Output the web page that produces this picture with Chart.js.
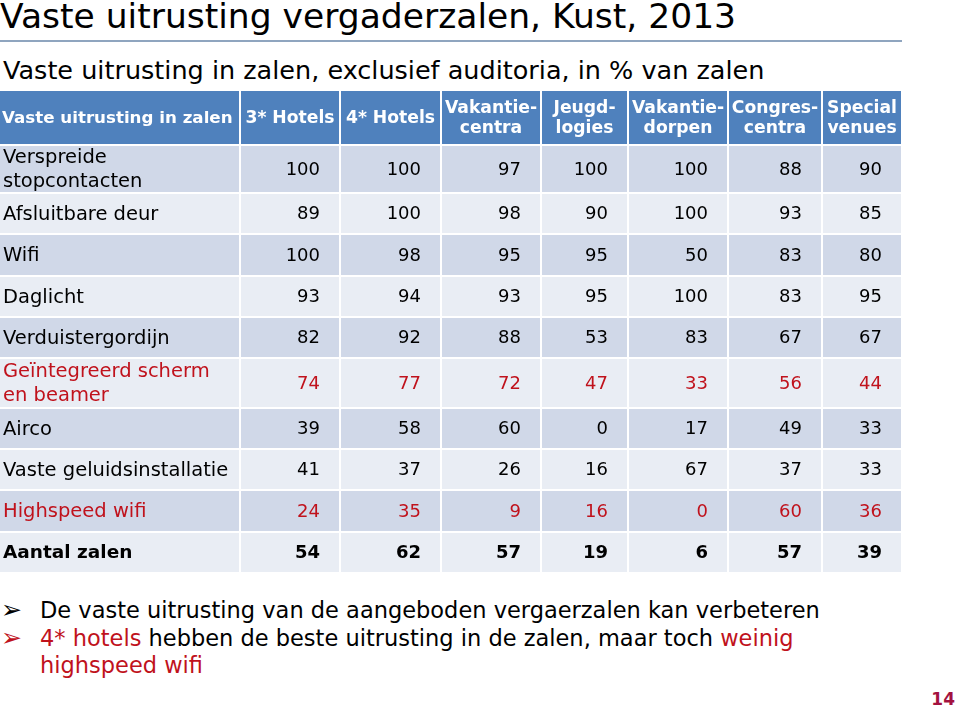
<!DOCTYPE html>
<html>
<head>
<meta charset="utf-8">
<script src="https://cdn.jsdelivr.net/npm/chart.js@4/dist/chart.umd.min.js"></script>
<style>
    body { margin: 0; width: 960px; height: 712px; background: #fff; position: relative; overflow: hidden; font-family: 'DejaVu Sans', Verdana, sans-serif; color: #000; }
    .title { position: absolute; left: 0; top: -4px; font-size: 34.5px; white-space: nowrap; }
    .rule { position: absolute; left: 0; top: 40px; width: 902px; height: 2px; background: #8fa5bf; }
    .subtitle { position: absolute; left: 3px; top: 55px; font-size: 25.5px; white-space: nowrap; }
    .table-wrap { position: absolute; left: 0; top: 91px; width: 902px; height: 482px; }
    .notes { position: absolute; left: 0; top: 597px; font-size: 22.5px; line-height: 27.5px; }
    .notes div { position: relative; padding-left: 40px; width: 830px; }
    .notes .arrow { position: absolute; left: 1px; top: -2px; font-size: 25px; line-height: 30px; }
    .red { color: #c0121c; }
    .page { position: absolute; right: 5px; top: 689px; font-size: 17px; font-weight: bold; color: #a3123f; }
</style>
</head>
<body>
<div class="title">Vaste uitrusting vergaderzalen, Kust, 2013</div>
<div class="rule"></div>
<div class="subtitle">Vaste uitrusting in zalen, exclusief auditoria, in % van zalen</div>
<div class="table-wrap"><canvas id="tableChart"></canvas></div>
<div class="notes">
    <div><span class="arrow">➢</span>De vaste uitrusting van de aangeboden vergaerzalen kan verbeteren</div>
    <div><span class="arrow red">➢</span><span class="red">4* hotels</span> hebben de beste uitrusting in de zalen, maar toch <span class="red">weinig highspeed wifi</span></div>
</div>
<div class="page">14</div>

<script>
// Table data
const cornerLabel = 'Vaste uitrusting in zalen';
const columns = ['3* Hotels', '4* Hotels', 'Vakantie-\ncentra', 'Jeugd-\nlogies', 'Vakantie-\ndorpen', 'Congres-\ncentra', 'Special\nvenues'];
const rowLabels = ['Verspreide\nstopcontacten', 'Afsluitbare deur', 'Wifi', 'Daglicht', 'Verduistergordijn',
    'Geïntegreerd scherm\nen beamer', 'Airco', 'Vaste geluidsinstallatie', 'Highspeed wifi', 'Aantal zalen'];
const hotels3 = [100, 89, 100, 93, 82, 74, 39, 41, 24, 54];
const hotels4 = [100, 100, 98, 94, 92, 77, 58, 37, 35, 62];
const vakantiecentra = [97, 98, 95, 93, 88, 72, 60, 26, 9, 57];
const jeugdlogies = [100, 90, 95, 95, 53, 47, 0, 16, 16, 19];
const vakantiedorpen = [100, 100, 50, 100, 83, 33, 17, 67, 0, 6];
const congrescentra = [88, 93, 83, 83, 67, 56, 49, 37, 60, 57];
const specialVenues = [90, 85, 80, 95, 67, 44, 33, 33, 36, 39];
const redRows = ['Geïntegreerd scherm\nen beamer', 'Highspeed wifi'];
const boldRows = ['Aantal zalen'];

const seriesValues = [hotels3, hotels4, vakantiecentra, jeugdlogies, vakantiedorpen, congrescentra, specialVenues];

// Layout (table units = px inside the canvas)
const colEdges = [0, 240, 340, 441, 541, 628, 728, 822, 902];
const rowEdges = [0, 54, 102, 143, 185, 226, 267, 317, 358, 399, 441, 482];
const FONT = "'DejaVu Sans', Verdana, sans-serif";
const HEADER_BG = '#4f81bd';
const ROW_BG = ['#d0d8e8', '#e9edf4'];
const RED = '#c0121c';

const mid = (edges, i) => (edges[i] + edges[i + 1]) / 2;

const datasets = seriesValues.map((vals, c) => ({
    label: columns[c],
    data: vals.map((v, r) => ({ x: mid(colEdges, c + 1), y: mid(rowEdges, r + 1), v: v })),
    pointRadius: 0,
    pointHoverRadius: 0
}));

function drawLines(ctx, text, x, yc, lineH) {
    const lines = text.split('\n');
    const start = yc - (lines.length - 1) * lineH / 2;
    lines.forEach((ln, i) => ctx.fillText(ln, x, start + i * lineH));
}

const tablePlugin = {
    id: 'tableCells',
    beforeDatasetsDraw(chart) {
        const { ctx, scales: { x, y } } = chart;
        const px = v => x.getPixelForValue(v);
        const py = v => y.getPixelForValue(v);
        ctx.save();
        ctx.textBaseline = 'middle';

        // header row
        for (let c = 0; c < colEdges.length - 1; c++) {
            const x0 = px(colEdges[c]) + (c === 0 ? 0 : 1);
            const x1 = px(colEdges[c + 1]) - 1;
            const y0 = py(rowEdges[0]);
            const y1 = py(rowEdges[1]) - 1;
            ctx.fillStyle = HEADER_BG;
            ctx.fillRect(x0, y0, x1 - x0, y1 - y0);
            ctx.fillStyle = '#fff';
            const yc = (y0 + y1) / 2 + 1;
            if (c === 0) {
                ctx.font = 'bold 16.7px ' + FONT;
                ctx.textAlign = 'left';
                ctx.fillText(cornerLabel, x0 + 2, yc);
            } else {
                ctx.font = 'bold 17.2px ' + FONT;
                ctx.textAlign = 'center';
                drawLines(ctx, columns[c - 1], (x0 + x1) / 2, yc, 20);
            }
        }

        // body rows: backgrounds and row labels
        rowLabels.forEach((label, r) => {
            const y0 = py(rowEdges[r + 1]) + 1;
            const y1 = py(rowEdges[r + 2]) - 1;
            for (let c = 0; c < colEdges.length - 1; c++) {
                const x0 = px(colEdges[c]) + (c === 0 ? 0 : 1);
                const x1 = px(colEdges[c + 1]) - 1;
                ctx.fillStyle = ROW_BG[r % 2];
                ctx.fillRect(x0, y0, x1 - x0, y1 - y0);
            }
            ctx.fillStyle = redRows.includes(label) ? RED : '#000';
            ctx.font = (boldRows.includes(label) ? 'bold 18.5px ' : '19.5px ') + FONT;
            ctx.textAlign = 'left';
            drawLines(ctx, label, px(colEdges[0]) + 3, (y0 + y1) / 2 + 1, 24);
        });

        // values, placed at each dataset point, right-aligned in the cell
        chart.data.datasets.forEach((ds, c) => {
            const meta = chart.getDatasetMeta(c);
            meta.data.forEach((pt, r) => {
                const label = rowLabels[r];
                ctx.fillStyle = redRows.includes(label) ? RED : '#000';
                ctx.font = (boldRows.includes(label) ? 'bold ' : '') + '18px ' + FONT;
                ctx.textAlign = 'right';
                ctx.fillText(String(ds.data[r].v), px(colEdges[c + 2]) - 20, pt.y + 1);
            });
        });
        ctx.restore();
    }
};

new Chart(document.getElementById('tableChart').getContext('2d'), {
    type: 'scatter',
    data: { datasets: datasets },
    options: {
        responsive: true,
        maintainAspectRatio: false,
        animation: false,
        events: [],
        layout: { padding: 0 },
        plugins: { legend: { display: false }, tooltip: { enabled: false } },
        scales: {
            x: { type: 'linear', min: 0, max: 902, display: false },
            y: { type: 'linear', min: 0, max: 482, reverse: true, display: false }
        }
    },
    plugins: [tablePlugin]
});
</script>
</body>
</html>
